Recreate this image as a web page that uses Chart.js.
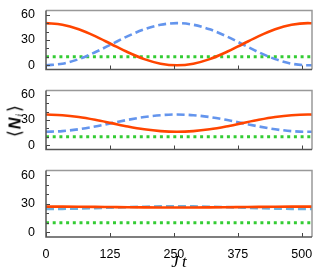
<!DOCTYPE html>
<html><head><meta charset="utf-8">
<script src="https://cdn.jsdelivr.net/npm/chart.js@4"></script>
<style>
html,body{margin:0;padding:0;background:#fff;}
#wrap{position:relative;width:320px;height:273px;overflow:hidden;background:#fff;}
canvas{position:absolute;left:0;}
#ylab{position:absolute;left:15px;top:121px;transform:translate(-50%,-50%) rotate(-90deg);white-space:nowrap;font-family:'DejaVu Sans',sans-serif;font-weight:200;font-size:18px;color:#000;line-height:1;}
#ylab b{font-family:'Liberation Sans',sans-serif;font-weight:bold;font-style:italic;font-size:16px;margin:0 1px;}
#ylab sub{font-family:'Liberation Serif',serif;font-weight:normal;font-size:10px;font-style:italic;vertical-align:-2px;margin-right:2px;}
</style></head><body>
<div id="wrap">
<canvas id="c1" style="top:0px" width="320" height="80"></canvas>
<canvas id="c2" style="top:80px" width="320" height="80"></canvas>
<canvas id="c3" style="top:160px" width="320" height="113"></canvas>
<div id="ylab">⟨<b>N</b><sub>i</sub>⟩</div>
</div>
<script>
// x positions (Jt)
const jt = [0,32,64,96,128,160,192,224,256,288,320,352,384,416,448,480,512,520];
// panel 1
const red1  = [50,48.1,42.7,34.6,25,15.4,7.3,1.9,0,1.9,7.3,15.4,25,34.6,42.7,48.1,50,49.9];
const blue1 = [0,1.9,7.3,15.4,25,34.6,42.7,48.1,50,48.1,42.7,34.6,25,15.4,7.3,1.9,0,0.1];
const green1 = [10,10,10,10,10,10,10,10,10,10,10,10,10,10,10,10,10,10];
// panel 2
const red2  = [36.5,35.7,33.5,30.2,26.3,22.3,19.0,16.8,16.0,16.8,19.0,22.3,26.3,30.2,33.5,35.7,36.5,36.4];
const blue2 = [16.0,16.8,19.0,22.3,26.3,30.2,33.5,35.7,36.5,35.7,33.5,30.2,26.3,22.3,19.0,16.8,16.0,16.1];
const green2 = [10,10,10,10,10,10,10,10,10,10,10,10,10,10,10,10,10,10];
// panel 3
const red3  = [27,26.96,26.85,26.69,26.5,26.31,26.15,26.04,26,26.04,26.15,26.31,26.5,26.69,26.85,26.96,27,27];
const blue3 = [24.5,24.61,24.91,25.36,25.9,26.44,26.89,27.19,27.3,27.19,26.89,26.44,25.9,25.36,24.91,24.61,24.5,24.5];
const green3 = [10,10,10,10,10,10,10,10,10,10,10,10,10,10,10,10,10,10];
// ticks
const xTicks = [0,125,250,375,500];
const yTicks = [0,10,20,30,40,50,60];
const yLabels = [0,30,60];

const RED = '#ff4500', BLUE = '#6495ed', BLUE3 = '#6fb0dc', GREEN = '#33cc33';

const framePlugin = {
  id: 'frame',
  afterDraw(chart) {
    const {ctx, chartArea: a, scales: {x, y}} = chart;
    ctx.save();
    ctx.strokeStyle = '#444';
    ctx.lineWidth = 1;
    ctx.beginPath();
    yTicks.forEach(v => {
      const py = Math.round(y.getPixelForValue(v)) + 0.5;
      const len = yLabels.includes(v) ? 4 : 3;
      ctx.moveTo(a.left, py); ctx.lineTo(a.left + len, py);
    });
    xTicks.forEach(v => {
      const px = Math.round(x.getPixelForValue(v)) + 0.5;
      ctx.moveTo(px, a.bottom); ctx.lineTo(px, a.bottom - 4);
    });
    ctx.stroke();
    ctx.lineWidth = 1.5;
    ctx.strokeStyle = '#999';
    ctx.beginPath();
    ctx.moveTo(a.left, a.top); ctx.lineTo(a.right, a.top); ctx.lineTo(a.right, a.bottom);
    ctx.stroke();
    ctx.strokeStyle = '#555';
    ctx.beginPath();
    ctx.moveTo(a.left, a.top); ctx.lineTo(a.left, a.bottom); ctx.lineTo(a.right, a.bottom);
    ctx.stroke();
    ctx.restore();
  }
};

function makeChart(id, red, blue, green, blueColor, bottom) {
  const ds = (data, color, dash, w) => ({
    data: jt.map((t, i) => ({x: t, y: data[i]})),
    borderColor: color, borderWidth: w, borderDash: dash,
    pointRadius: 0, cubicInterpolationMode: 'monotone', fill: false
  });
  return new Chart(document.getElementById(id), {
    type: 'line',
    data: { datasets: [
      ds(red, RED, [], 2.6),
      ds(blue, blueColor, [8, 4], 2.6),
      ds(green, GREEN, [3, 3.7], 3)
    ]},
    options: {
      responsive: false, animation: false, devicePixelRatio: 1,
      layout: { padding: { top: bottom ? 5 : 7, bottom: bottom ? 0 : 2, left: 0, right: 8 } },
      plugins: { legend: { display: false }, tooltip: { enabled: false } },
      scales: {
        x: {
          type: 'linear', min: 0, max: 520, display: bottom,
          grid: { display: false }, border: { display: false },
          afterBuildTicks: s => { s.ticks = xTicks.map(v => ({value: v})); },
          afterFit: s => { s.height = bottom ? 36 : 0; },
          ticks: { padding: 2, autoSkip: false, color: '#000', font: { family: 'Liberation Sans', size: 12.5 }, maxRotation: 0 },
          title: { display: true, text: 'J\u2009t', color: '#000', padding: 0,
                   font: { family: 'Liberation Serif', style: 'italic', size: 17 } }
        },
        y: {
          min: -5, max: 65,
          grid: { display: false }, border: { display: false },
          afterBuildTicks: s => { s.ticks = yTicks.map(v => ({value: v})); },
          afterFit: s => { s.width = 46; },
          ticks: { padding: 3, autoSkip: false, color: '#000', font: { family: 'Liberation Sans', size: 12.5 },
                   callback: v => yLabels.includes(v) ? String(v) : '' }
        }
      }
    },
    plugins: [framePlugin]
  });
}
makeChart('c1', red1, blue1, green1, BLUE, false);
makeChart('c2', red2, blue2, green2, BLUE, false);
makeChart('c3', red3, blue3, green3, BLUE3, true);
</script>
</body></html>
